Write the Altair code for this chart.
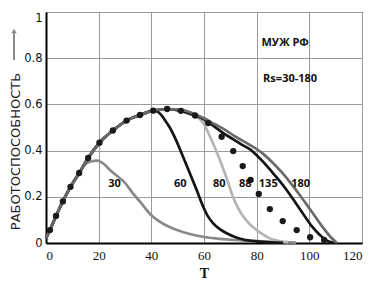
import altair as alt
import pandas as pd

# ---- data ----
T_30 = [0, 1.5, 3.8, 6.4, 9.3, 12.6, 15, 17, 19.5, 22, 24.3, 27, 30, 33, 36, 40, 45, 50, 55, 60, 65, 70, 80, 90, 95]
Y_30 = [0.02, 0.056, 0.117, 0.18, 0.243, 0.303, 0.342, 0.353, 0.357, 0.342, 0.316, 0.29, 0.26, 0.215, 0.175, 0.12, 0.08, 0.055, 0.038, 0.026, 0.019, 0.014, 0.008, 0.004, 0.002]

T_60 = [0, 1.5, 3.8, 6.4, 9.3, 12.6, 16, 20.3, 25.4, 30.6, 35.7, 40.7, 42, 43.3, 45, 47, 49.6, 52, 54.7, 57.2, 59.7, 61.5, 63.5, 66, 68.6, 72, 75, 80, 85, 90]
Y_60 = [0.02, 0.056, 0.117, 0.18, 0.243, 0.303, 0.368, 0.434, 0.487, 0.53, 0.554, 0.573, 0.57, 0.56, 0.535, 0.5, 0.44, 0.374, 0.3, 0.23, 0.157, 0.115, 0.085, 0.06, 0.042, 0.025, 0.015, 0.007, 0.003, 0.001]

T_80 = [0, 1.5, 3.8, 6.4, 9.3, 12.6, 16, 20.3, 25.4, 30.6, 35.7, 40.7, 46, 51.2, 54, 56.5, 58, 59.7, 61.5, 63.5, 66, 68.6, 71, 73, 75, 77.5, 80, 83, 85, 88, 92]
Y_80 = [0.02, 0.056, 0.117, 0.18, 0.243, 0.303, 0.368, 0.434, 0.487, 0.53, 0.554, 0.573, 0.58, 0.572, 0.56, 0.55, 0.54, 0.52, 0.48, 0.43, 0.36, 0.28, 0.2, 0.15, 0.114, 0.08, 0.056, 0.033, 0.02, 0.01, 0.003]

T_88 = [1.5, 3.8, 6.4, 9.3, 12.6, 16, 20.3, 25.4, 30.6, 35.7, 40.7, 46, 51.2, 56.6, 61.6, 66.7, 71.1, 74.7, 77.7, 80.8, 85, 89.9, 95.2, 100.3, 105.6]
Y_88 = [0.056, 0.117, 0.18, 0.243, 0.303, 0.368, 0.434, 0.487, 0.53, 0.554, 0.573, 0.58, 0.572, 0.552, 0.519, 0.46, 0.398, 0.333, 0.273, 0.212, 0.147, 0.095, 0.056, 0.025, 0.013]

T_135 = [0, 1.5, 3.8, 6.4, 9.3, 12.6, 16, 20.3, 25.4, 30.6, 35.7, 40.7, 46, 51.2, 56.6, 60, 62, 65, 68, 71, 73.7, 77.5, 80, 83, 86, 89, 92, 95, 98, 101, 104, 106, 108, 110]
Y_135 = [0.02, 0.056, 0.117, 0.18, 0.243, 0.303, 0.368, 0.434, 0.487, 0.53, 0.554, 0.573, 0.58, 0.572, 0.552, 0.535, 0.52, 0.495, 0.47, 0.45, 0.43, 0.405, 0.38, 0.345, 0.305, 0.265, 0.22, 0.17, 0.12, 0.072, 0.035, 0.015, 0.004, 0.0]

T_180 = [0, 1.5, 3.8, 6.4, 9.3, 12.6, 16, 20.3, 25.4, 30.6, 35.7, 40.7, 46, 52, 56, 60, 64, 68, 72, 77.5, 82, 86.3, 90, 93, 96, 99, 102, 105, 108, 110.5]
Y_180 = [0.02, 0.056, 0.117, 0.18, 0.243, 0.303, 0.368, 0.434, 0.487, 0.53, 0.554, 0.573, 0.58, 0.575, 0.56, 0.54, 0.515, 0.49, 0.46, 0.424, 0.39, 0.345, 0.3, 0.258, 0.213, 0.166, 0.118, 0.07, 0.027, 0.0]

LABELS = ["30", "60", "80", "88", "135", "180"]
LABEL_T = [26, 51, 65.8, 75.7, 84.4, 96.7]
LABEL_Y = [0.254, 0.254, 0.254, 0.254, 0.254, 0.254]

NOTES = ["МУЖ РФ", "Rs=30-180"]
NOTE_T = [90.8, 92.7]
NOTE_Y = [0.864, 0.71]

X_TICKS = [0, 20, 40, 60, 80, 100, 120]
Y_TICKS = [0, 0.2, 0.4, 0.6, 0.8, 1]

# ---- build tables ----
rows = []
for name, ts, ys in [("30", T_30, Y_30), ("80", T_80, Y_80), ("60", T_60, Y_60),
                     ("135", T_135, Y_135), ("180", T_180, Y_180)]:
    for i, (t, y) in enumerate(zip(ts, ys)):
        rows.append({"Rs": name, "T": t, "P": y, "i": i})
lines_df = pd.DataFrame(rows)
dots_df = pd.DataFrame({"T": T_88, "P": Y_88})
labels_df = pd.DataFrame({"T": LABEL_T, "P": LABEL_Y, "text": LABELS})
notes_df = pd.DataFrame({"T": NOTE_T, "P": NOTE_Y, "text": NOTES})

x_scale = alt.Scale(domain=[0, 120], nice=False)
y_scale = alt.Scale(domain=[0, 1], nice=False)

x_axis = alt.Axis(values=X_TICKS, title="T", grid=True, ticks=False,
                  labelFont="Liberation Serif", labelFontSize=13, labelColor="#111",
                  labelPadding=6, titleFont="Liberation Serif", titleFontSize=14,
                  titleFontWeight="bold", titleColor="#111", titlePadding=4,
                  domainColor="#000", domainWidth=2, gridColor="#9a9a9a", gridWidth=1)
y_axis = alt.Axis(values=Y_TICKS, format="~g", title="РАБОТОСПОСОБНОСТЬ", grid=True,
                  ticks=False, labelFont="DejaVu Sans", labelFontSize=11.5, labelColor="#111",
                  labelPadding=4,
                  labelBaseline={"condition": {"test": "datum.value == 1", "value": "top"},
                                 "value": "middle"},
                  titleFont="DejaVu Sans", titleFontSize=13,
                  titleFontWeight="normal", titleColor="#222", titleX=-31, titleY=139,
                  titleBaseline="middle", titleAngle=270,
                  domainColor="#000", domainWidth=2, gridColor="#9a9a9a", gridWidth=1)

color_scale = alt.Scale(domain=["30", "80", "60", "135", "180"],
                        range=["#8a8a8a", "#b4b4b4", "#151515", "#151515", "#6a6a6a"])

lines = alt.Chart(lines_df).mark_line(strokeWidth=2.7, interpolate="monotone").encode(
    x=alt.X("T:Q", scale=x_scale, axis=x_axis),
    y=alt.Y("P:Q", scale=y_scale, axis=y_axis),
    color=alt.Color("Rs:N", scale=color_scale, legend=None),
    detail="Rs:N",
    order="i:Q",
)

dots = alt.Chart(dots_df).mark_circle(size=40, color="#1a1a1a", opacity=1).encode(
    x=alt.X("T:Q", scale=x_scale), y=alt.Y("P:Q", scale=y_scale)
)

labels = alt.Chart(labels_df).mark_text(font="Open Sans", fontSize=11, fontWeight="bold",
                                        color="#111").encode(
    x=alt.X("T:Q", scale=x_scale), y=alt.Y("P:Q", scale=y_scale), text="text:N"
)

notes = alt.Chart(notes_df).mark_text(font="Open Sans", fontSize=11, fontWeight="bold",
                                      color="#111").encode(
    x=alt.X("T:Q", scale=x_scale), y=alt.Y("P:Q", scale=y_scale), text="text:N"
)

arrow_line = alt.Chart(pd.DataFrame({"a": [0]})).mark_rule(color="#8a8a8a", strokeWidth=2).encode(
    x=alt.value(-32), y=alt.value(20), y2=alt.value(48)
)
arrow_head = alt.Chart(pd.DataFrame({"a": [0]})).mark_point(
    shape="triangle-up", filled=True, size=30, color="#8a8a8a", opacity=1).encode(
    x=alt.value(-32), y=alt.value(19)
)

chart = alt.layer(lines, dots, labels, notes, arrow_line, arrow_head).properties(
    width=316, height=231,
    autosize=alt.AutoSizeParams(type="none"),
    padding={"left": 38, "top": 4, "right": 17, "bottom": 38},
    background="white",
).configure_view(stroke="#000", strokeWidth=1)

chart.save("out.html", embed_options={"renderer": "svg", "actions": False})
